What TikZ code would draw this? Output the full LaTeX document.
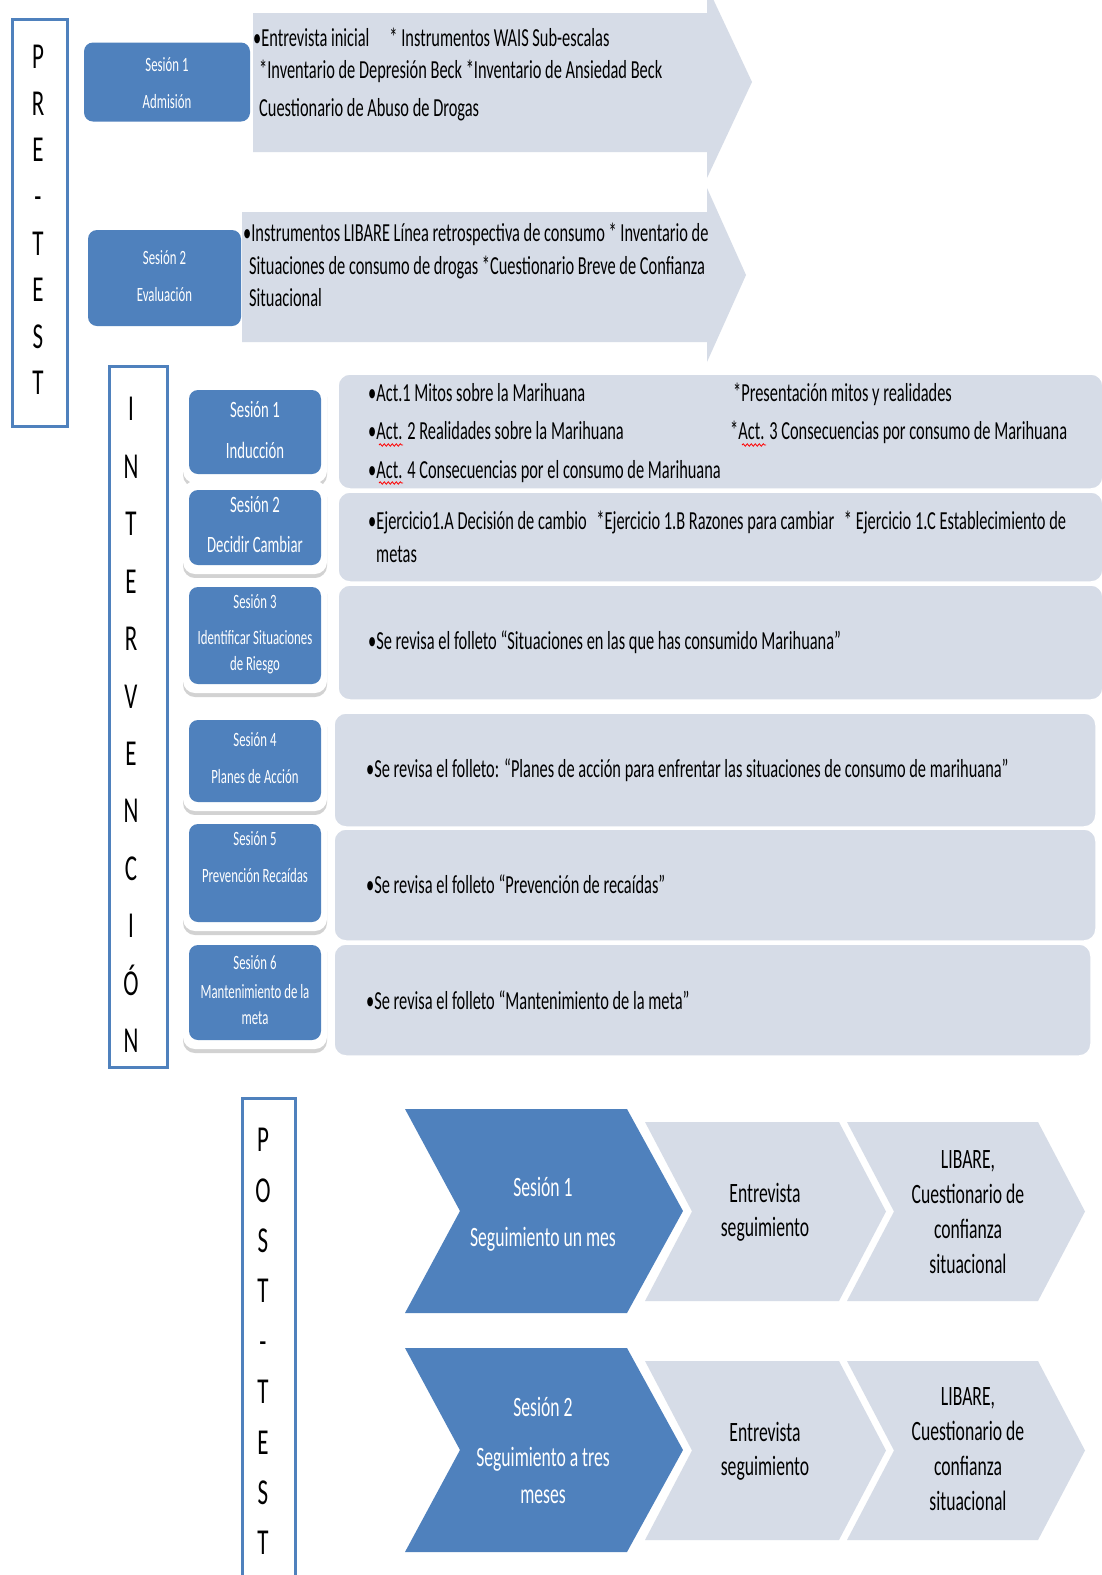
\documentclass[tikz,border=0pt]{standalone}
\usepackage{fontspec}
\setmainfont{Carlito}[FakeStretch=0.63]
\usetikzlibrary{shadows,decorations.pathmorphing}
\usepackage{xcolor}
\definecolor{sesblue}{HTML}{4F81BD}
\definecolor{panelfill}{HTML}{D6DCE7}
\newcommand{\fs}[2]{\fontsize{#1}{#2}\selectfont}

\begin{document}
\begin{tikzpicture}[x=1pt,y=-1pt,
  phasebox/.style={draw=sesblue,line width=3pt},
  phaseletter/.style={font=\fs{36.5}{36},inner sep=0pt,text height=23.5pt,text depth=0pt},
  sesbox/.style={fill=sesblue,rounded corners=9pt,inner sep=0pt},
  sestext/.style={text=white,align=center,inner sep=0pt},
  halo/.style={fill=white,rounded corners=12pt,inner sep=0pt,
    drop shadow={shadow xshift=0pt,shadow yshift=-4pt,opacity=0.35}},
  panel/.style={fill=panelfill,draw=white,line width=1.5pt,rounded corners=12pt},
  paneltext/.style={anchor=west,align=left,inner sep=0pt,font=\fs{26}{38.5}},
  chevdark/.style={fill=sesblue},
  chevlight/.style={fill=panelfill},
  chevtext/.style={align=center,inner sep=0pt,font=\fs{28}{35}},
  squiggle/.style={red,line width=0.8pt,decorate,
    decoration={snake,amplitude=1.2pt,segment length=4pt}}
]
  \clip (0,0) rectangle (1102,1575);
  \fill[white] (0,0) rectangle (1102,1575);

  % PRE-TEST
  \draw[phasebox] (12,19) rectangle (67,426);
  \foreach \l [count=\i] in {P,R,E,-,T,E,S,T} {
    \pgfmathsetmacro{\y}{57+46.6*(\i-1)}
    \node[phaseletter] (pre\i) at (38,\y) {\l};
  }
  \fill[panelfill] (253,13) -- (707,13) -- (707,-14) -- (752,82) -- (707,178)
    -- (707,152) -- (253,152) -- cycle;
  \fill[panelfill] (242,212) -- (707,212) -- (707,188) -- (746,275) -- (707,362)
    -- (707,342) -- (242,342) -- cycle;
  \node[sesbox,minimum width=166pt,minimum height=79pt] (adm) at (167,82) {};
  \node[sestext,font=\fs{20.3}{37}] (admt) at (167,83.5) {Sesión 1\\Admisión};
  \node[sesbox,minimum width=153pt,minimum height=96pt] (eva) at (164.5,278) {};
  \node[sestext,font=\fs{20.3}{37}] (evat) at (164.5,276.5) {Sesión 2\\Evaluación};
  \node[paneltext,font=\fs{26}{32}] (admtxt) at (253,74)
    {•Entrevista inicial\hspace{20pt}* Instrumentos WAIS Sub-escalas\\
     \hspace*{6pt}*Inventario de Depresión Beck *Inventario de Ansiedad Beck\\[6pt]
     \hspace*{6pt}Cuestionario de Abuso de Drogas};
  \node[paneltext,font=\fs{26}{32.5}] (evatxt) at (243,265)
    {•Instrumentos LIBARE Línea retrospectiva de consumo * Inventario de\\
     \hspace*{6pt}Situaciones de consumo de drogas *Cuestionario Breve de Confianza\\
     \hspace*{6pt}Situacional};

  % INTERVENCION
  \draw[phasebox] (109,366) rectangle (167,1067);
  \foreach \l [count=\i] in {I,N,T,E,R,V,E,N,C,I,Ó,N} {
    \pgfmathsetmacro{\y}{409+57.45*(\i-1)}
    \node[phaseletter] (int\i) at (131,\y) {\l};
  }
  \fill[panel] (338,374) rectangle (1103,489);
  \fill[panel] (338,492) rectangle (1103,582);
  \fill[panel] (338,585) rectangle (1103,700);
  \fill[panel] (334,713) rectangle (1096,827);
  \fill[panel] (334,829) rectangle (1096,941);
  \fill[panel] (334,944) rectangle (1091,1056);
  \foreach \c/\h [count=\i] in {432/84, 527.5/75, 635.5/97, 761/82, 873/98, 992.5/95} {
    \pgfmathsetmacro{\hh}{\h+18}
    \node[halo,minimum width=144pt,minimum height=\hh pt] (h\i) at (255,\c) {};
    \node[sesbox,minimum width=132pt,minimum height=\h pt] (s\i) at (255,\c) {};
  }
  \node[sestext,font=\fs{23.4}{41}] (s1t) at (255,430.5) {Sesión 1\\Inducción};
  \node[sestext,font=\fs{23.4}{40}] (s2t) at (255,525) {Sesión 2\\Decidir Cambiar};
  \node[sestext,font=\fs{20.3}{26}] (s3t) at (255,634) {Sesión 3\\[10pt]Identificar Situaciones\\de Riesgo};
  \node[sestext,font=\fs{20.3}{37}] (s4t) at (255,758.5) {Sesión 4\\Planes de Acción};
  \node[sestext,font=\fs{20.3}{37}] (s5t) at (255,857.5) {Sesión 5\\Prevención Recaídas};
  \node[sestext,font=\fs{20.3}{26}] (s6t) at (255,990.5) {Sesión 6\\[3pt]Mantenimiento de la\\meta};

  \node[paneltext] (p1) at (368,432.5)
    {\makebox[365pt][l]{•Act.1 Mitos sobre la Marihuana}*Presentación mitos y realidades\\
     \makebox[362pt][l]{•Act. 2 Realidades sobre la Marihuana}*Act. 3 Consecuencias por consumo de Marihuana\\
     •Act. 4 Consecuencias por el consumo de Marihuana};
  \node[paneltext,font=\fs{26}{33}] (p2) at (368,537)
    {•Ejercicio1.A Decisión de cambio\hspace{6pt} *Ejercicio 1.B Razones para cambiar\hspace{6pt} * Ejercicio 1.C Establecimiento de\\
     \hspace*{8pt}metas};
  \node[paneltext] (p3) at (368,642) {•Se revisa el folleto “Situaciones en las que has consumido Marihuana”};
  \node[paneltext] (p4) at (366,770) {•Se revisa el folleto: “Planes de acción para enfrentar las situaciones de consumo de marihuana”};
  \node[paneltext] (p5) at (366,884) {•Se revisa el folleto “Prevención de recaídas”};
  \node[paneltext] (p6) at (366,1000) {•Se revisa el folleto “Mantenimiento de la meta”};
  % spell-check marks
  \draw[squiggle] (379,445) -- (403,445);
  \draw[squiggle] (379,483) -- (403,483);
  \draw[squiggle] (742,445) -- (766,445);

  % POST-TEST
  \draw[phasebox] (242,1098) rectangle (295,1590);
  \foreach \l [count=\i] in {P,O,S,T,-,T,E,S,T} {
    \pgfmathsetmacro{\y}{1140+50.4*(\i-1)}
    \node[phaseletter] (post\i) at (263,\y) {\l};
  }
  \foreach \dy [count=\r] in {0,239} {
    \begin{scope}[yshift=-\dy pt]
      \fill[chevdark] (405,1109) -- (627,1109) -- (683,1211) -- (627,1313) -- (405,1313) -- (460,1211) -- cycle;
      \fill[chevlight] (645,1122) -- (839,1122) -- (886,1211.5) -- (839,1301) -- (645,1301) -- (692,1211.5) -- cycle;
      \fill[chevlight] (847,1122) -- (1038,1122) -- (1085,1211.5) -- (1038,1301) -- (847,1301) -- (894,1211.5) -- cycle;
    \end{scope}
  }
  \node[chevtext,text=white,font=\fs{28}{50}] (f1) at (543,1214) {Sesión 1\\Seguimiento un mes};
  \node[chevtext,font=\fs{28}{34}] (f1a) at (765,1212) {Entrevista\\seguimiento};
  \node[chevtext] (f1b) at (968,1212) {LIBARE,\\Cuestionario de\\confianza\\situacional};
  \node[chevtext,text=white,font=\fs{28}{37}] (f2) at (543,1450) {Sesión 2\\[13pt]Seguimiento a tres\\meses};
  \node[chevtext,font=\fs{28}{34}] (f2a) at (765,1451) {Entrevista\\seguimiento};
  \node[chevtext] (f2b) at (968,1449.5) {LIBARE,\\Cuestionario de\\confianza\\situacional};
\end{tikzpicture}
\end{document}
